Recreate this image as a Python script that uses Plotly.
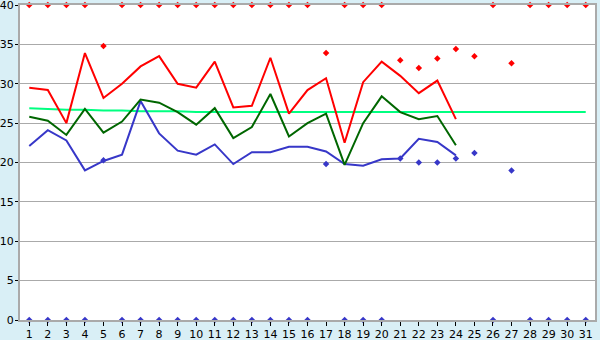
import plotly.graph_objects as go

days = list(range(1, 32))
line_days = list(range(1, 25))

max_line = [29.5, 29.2, 25.0, 33.9, 28.2, 30.0, 32.2, 33.5, 30.0, 29.5,
            32.8, 27.0, 27.2, 33.3, 26.2, 29.2, 30.7, 22.5, 30.2, 32.8,
            31.0, 28.8, 30.4, 25.5]
mean_line = [25.8, 25.3, 23.5, 26.8, 23.8, 25.2, 28.0, 27.6, 26.4, 24.8,
             26.9, 23.1, 24.5, 28.7, 23.3, 25.0, 26.2, 19.7, 25.0, 28.4,
             26.4, 25.5, 25.9, 22.2]
min_line = [22.1, 24.1, 22.8, 19.0, 20.2, 21.0, 27.8, 23.7, 21.5, 21.0,
            22.3, 19.8, 21.3, 21.3, 22.0, 22.0, 21.4, 19.8, 19.6, 20.4,
            20.5, 23.0, 22.6, 20.9]
avg_line = [26.9, 26.8, 26.7, 26.7, 26.6, 26.6, 26.5, 26.5, 26.5, 26.4,
            26.4, 26.4, 26.4, 26.4, 26.4, 26.4, 26.4, 26.4, 26.4, 26.4,
            26.4, 26.4, 26.4, 26.4, 26.4, 26.4, 26.4, 26.4, 26.4, 26.4, 26.4]
max_points = [40, 40, 40, 40, 34.8, 40, 40, 40, 40, 40, 40, 40, 40, 40, 40, 40,
              33.9, 40, 40, 40, 33.0, 32.0, 33.2, 34.4, 33.5, 40, 32.6, 40, 40, 40, 40]
min_points = [0, 0, 0, 0, 20.3, 0, 0, 0, 0, 0, 0, 0, 0, 0, 0, 0,
              19.8, 0, 0, 0, 20.5, 20.0, 20.0, 20.5, 21.2, 0, 19.0, 0, 0, 0, 0]
y_ticks = [0, 5, 10, 15, 20, 25, 30, 35, 40]

fig = go.Figure()
fig.add_trace(go.Scatter(x=days, y=avg_line, mode="lines",
                         line=dict(color="#00ff80", width=2), cliponaxis=False))
fig.add_trace(go.Scatter(x=line_days, y=min_line, mode="lines",
                         line=dict(color="#3737c8", width=2)))
fig.add_trace(go.Scatter(x=line_days, y=mean_line, mode="lines",
                         line=dict(color="#006600", width=2)))
fig.add_trace(go.Scatter(x=line_days, y=max_line, mode="lines",
                         line=dict(color="#ff0000", width=2)))
fig.add_trace(go.Scatter(x=days, y=max_points, mode="markers",
                         marker=dict(symbol="diamond", size=5, color="#ff0000"),
                         cliponaxis=False))
fig.add_trace(go.Scatter(x=days, y=min_points, mode="markers",
                         marker=dict(symbol="diamond", size=5, color="#3737c8"),
                         cliponaxis=False))

font = dict(family="DejaVu Sans", size=11, color="#000000")
fig.update_layout(
    width=600, height=340,
    margin=dict(l=20, r=5, t=5, b=20, pad=0, autoexpand=False),
    paper_bgcolor="#d9eff6",
    plot_bgcolor="#ffffff",
    showlegend=False,
    font=font,
)
fig.update_xaxes(range=[0.5, 31.5], tickmode="array", tickvals=days,
                 ticktext=[str(d) for d in days], automargin=False,
                 showgrid=False, zeroline=False, showline=True, mirror=True,
                 linecolor="#aaaaaa", linewidth=2, ticks="outside", ticklen=4,
                 ticklabelstandoff=-1, ticklabeloverflow="allow",
                 tickcolor="#000000", tickfont=font)
fig.update_yaxes(range=[0, 40], tickmode="array", tickvals=y_ticks,
                 automargin=False,
                 showgrid=True, gridcolor="#aaaaaa", gridwidth=1,
                 zeroline=False, showline=True, mirror=True,
                 linecolor="#aaaaaa", linewidth=2, ticks="outside", ticklen=3,
                 ticklabelstandoff=-1, ticklabeloverflow="allow",
                 tickcolor="#000000", tickfont=font)

fig.write_html("out.html")
